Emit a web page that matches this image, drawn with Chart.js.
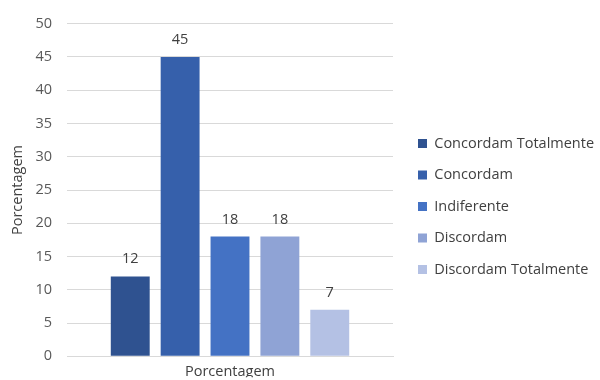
<!DOCTYPE html>
<html>
<head>
<meta charset="utf-8">
<script src="https://cdn.jsdelivr.net/npm/chart.js@4/dist/chart.umd.min.js"></script>
<style>
  html, body { margin: 0; padding: 0; background: #ffffff; }
  #wrap { width: 600px; height: 380px; }
</style>
</head>
<body>
<div id="wrap"><canvas id="chart" width="600" height="380"></canvas></div>
<script>
const categories = ["Porcentagem"];
const seriesNames = ["Concordam Totalmente", "Concordam", "Indiferente", "Discordam", "Discordam Totalmente"];
const seriesValues = [12, 45, 18, 18, 7];
const seriesColors = ["#2F5290", "#3660AB", "#4472C4", "#8FA3D5", "#B4C1E4"];
const yTicks = [0, 5, 10, 15, 20, 25, 30, 35, 40, 45, 50];

const FONT = "'Open Sans', 'Noto Sans', sans-serif";
const SIZE = 14.5;

// value labels written above each bar
const valueLabels = {
  id: "valueLabels",
  afterDatasetsDraw(chart) {
    const ctx = chart.ctx;
    ctx.save();
    ctx.font = SIZE + "px " + FONT;
    ctx.fillStyle = "#404040";
    ctx.textAlign = "center";
    ctx.textBaseline = "alphabetic";
    chart.data.datasets.forEach((ds, i) => {
      const meta = chart.getDatasetMeta(i);
      meta.data.forEach((bar, j) => {
        ctx.fillText(String(ds.data[j]), bar.x, bar.y - 13);
      });
    });
    ctx.restore();
  }
};

// let the right-hand legend take the width its labels need,
// and leave a small gap between the plot and the legend
const legendSpace = {
  id: "legendSpace",
  beforeLayout(chart) {
    const legend = chart.legend;
    if (legend && !legend._wideFit) {
      const fit = legend.fit;
      legend.fit = function () {
        fit.call(this);
        this.width = 207;
      };
      legend._wideFit = true;
    }
  },
  afterLayout(chart) {
    const legend = chart.legend;
    if (legend) {
      legend.left = chart.chartArea.right + 8;
      legend.top += 6;
      legend.bottom += 6;
    }
  }
};

const datasets = seriesNames.map((name, i) => ({
  label: name,
  data: [seriesValues[i]],
  backgroundColor: seriesColors[i],
  borderWidth: 0,
  categoryPercentage: 0.765,
  barPercentage: 0.78
}));

new Chart(document.getElementById("chart"), {
  type: "bar",
  data: { labels: categories, datasets },
  options: {
    responsive: false,
    animation: false,
    layout: { padding: { top: 21, right: 0, bottom: 0, left: 9 } },
    plugins: {
      legend: {
        position: "right",
        labels: {
          boxWidth: 9,
          boxHeight: 9,
          padding: 17,
          color: "#404040",
          font: { family: FONT, size: SIZE }
        }
      },
      tooltip: { enabled: false }
    },
    scales: {
      x: {
        afterFit(scale) { scale.height = 21; },
        grid: { display: false, drawTicks: false },
        border: { color: "#D9D9D9" },
        ticks: { color: "#404040", font: { family: FONT, size: SIZE }, padding: 7 }
      },
      y: {
        min: 0,
        max: 50,
        afterFit(scale) { scale.width = 58; },
        afterBuildTicks(axis) { axis.ticks = yTicks.map(v => ({ value: v })); },
        grid: { color: "#D9D9D9", drawTicks: false },
        border: { display: false },
        ticks: { color: "#595959", font: { family: FONT, size: SIZE }, padding: 15 },
        title: {
          display: true,
          text: "Porcentagem",
          color: "#404040",
          font: { family: FONT, size: SIZE },
          padding: { top: 0, bottom: 0 }
        }
      }
    }
  },
  plugins: [valueLabels, legendSpace]
});
</script>
</body>
</html>
